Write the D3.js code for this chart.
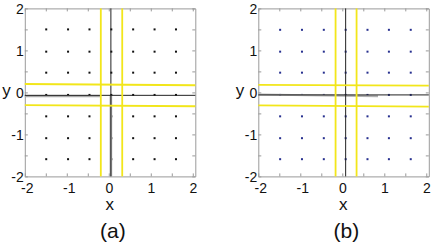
<!DOCTYPE html>
<html>
<head>
<meta charset="utf-8">
<script src="https://cdn.jsdelivr.net/npm/d3@7"></script>
<style>
  body { margin: 0; background: #fff; }
  svg text { font-family: "Liberation Sans", Arial, sans-serif; fill: #111; }
</style>
</head>
<body>
<div id="chart"></div>
<script>
// tick values, labels only at the integers
var tickVals = [-2, -1.5, -1, -0.5, 0, 0.5, 1, 1.5, 2];

// sample grid, panel (a) and (b)
var gridXa = [-1.49, -0.97, -0.46, 0.06, 0.58, 1.09, 1.60];
var gridYa = [1.50, 0.97, 0.47, -0.06, -0.57, -1.09, -1.59];
var gridXb = [-1.48, -0.96, -0.44, 0.08, 0.60, 1.11, 1.63];
var gridYb = [1.49, 0.97, 0.47, -0.06, -0.57, -1.09, -1.59];

// yellow lines: vertical x positions, horizontal [y at left, y at right]
var yellowVa = [-0.19, 0.32];
var yellowHa = [[0.20, 0.17], [-0.305, -0.33]];
var yellowVb = [-0.16, 0.34];
var yellowHb = [[0.18, 0.16], [-0.31, -0.34]];

// black axis lines (x of vertical, y of horizontal)
var blackA = [0.05, -0.07];
var blackB = [0.08, -0.06];

var panels = [
  { left: 24.8, label: "(a)", gx: gridXa, gy: gridYa, dot: "#111", yv: yellowVa, yh: yellowHa, blk: blackA, shadow: true },
  { left: 258.3, label: "(b)", gx: gridXb, gy: gridYb, dot: "#27308f", yv: yellowVb, yh: yellowHb, blk: blackB, shadow: false }
];

var W = 436, H = 250;
var svg = d3.select("#chart").append("svg").attr("width", W).attr("height", H);

var xMax = 2.06;
var pw = 170.5, plotTop = 8.4, plotBottom = 176.4;

panels.forEach(function(p) {
  var x = d3.scaleLinear().domain([-2, xMax]).range([p.left, p.left + pw]);
  var y = d3.scaleLinear().domain([-2, 2]).range([plotBottom, plotTop]);
  var g = svg.append("g");

  var fmt = function(d) { return Number.isInteger(d) ? String(d) : ""; };

  // box + inner ticks on all four sides
  var axB = g.append("g").attr("transform", "translate(0," + plotBottom + ")")
    .call(d3.axisBottom(x).tickValues(tickVals).tickSizeInner(-3).tickSizeOuter(0).tickFormat(fmt));
  var axT = g.append("g").attr("transform", "translate(0," + plotTop + ")")
    .call(d3.axisTop(x).tickValues(tickVals).tickSizeInner(-3).tickSizeOuter(0).tickFormat(""));
  var axL = g.append("g").attr("transform", "translate(" + p.left + ",0)")
    .call(d3.axisLeft(y).tickValues(tickVals).tickSizeInner(-3).tickSizeOuter(0).tickFormat(fmt));
  var axR = g.append("g").attr("transform", "translate(" + (p.left + pw) + ",0)")
    .call(d3.axisRight(y).tickValues(tickVals).tickSizeInner(-3).tickSizeOuter(0).tickFormat(""));

  [axB, axT, axL, axR].forEach(function(a) {
    a.select(".domain").attr("stroke", "#9a9a9a");
    a.selectAll(".tick line").attr("stroke", "#9a9a9a");
    a.selectAll("text").attr("font-size", 14).attr("fill", "#111")
      .attr("font-family", "Liberation Sans, Arial, sans-serif");
  });
  axB.selectAll("text").attr("y", 7).attr("dy", "0.71em")
    .attr("dx", function(d) { return d < 0 ? 2 : 0; });
  axL.selectAll("text").attr("x", -1).attr("dy", "0.33em");

  // dots
  var pts = [];
  p.gy.forEach(function(yy) { p.gx.forEach(function(xx) { pts.push([xx, yy]); }); });
  g.selectAll("rect.dot").data(pts).enter().append("rect")
    .attr("class", "dot")
    .attr("x", function(d) { return x(d[0]) - 1; })
    .attr("y", function(d) { return y(d[1]) - 1; })
    .attr("width", 2).attr("height", 2)
    .attr("fill", p.dot);

  // gray shadow segments
  if (p.shadow) {
    g.append("line")
      .attr("x1", x(-2)).attr("x2", x(-0.2))
      .attr("y1", y(p.blk[1] - 0.02)).attr("y2", y(p.blk[1] - 0.02))
      .attr("stroke", "#aaa").attr("stroke-width", 2.2);
    g.append("line")
      .attr("x1", x(p.blk[0])).attr("x2", x(p.blk[0]))
      .attr("y1", y(p.blk[1])).attr("y2", y(-2))
      .attr("stroke", "#aaa").attr("stroke-width", 2.6);
  } else {
    g.append("line")
      .attr("x1", x(-2)).attr("x2", x(0.85))
      .attr("y1", y(p.blk[1] + 0.01)).attr("y2", y(p.blk[1] - 0.03))
      .attr("stroke", "#b0b0b0").attr("stroke-width", 2);
  }

  // black lines
  g.append("line")
    .attr("x1", x(p.blk[0])).attr("x2", x(p.blk[0]))
    .attr("y1", y(2)).attr("y2", y(-2))
    .attr("stroke", "#222").attr("stroke-width", 1);
  g.append("line")
    .attr("x1", x(-2)).attr("x2", x(xMax))
    .attr("y1", y(p.blk[1])).attr("y2", y(p.blk[1]))
    .attr("stroke", "#222").attr("stroke-width", 1);

  // yellow lines
  g.selectAll("line.yv").data(p.yv).enter().append("line")
    .attr("class", "yv")
    .attr("x1", function(d) { return x(d); }).attr("x2", function(d) { return x(d); })
    .attr("y1", y(2)).attr("y2", y(-2))
    .attr("stroke", "#f2e61a").attr("stroke-width", 1.8);
  g.selectAll("line.yh").data(p.yh).enter().append("line")
    .attr("class", "yh")
    .attr("x1", x(-2)).attr("x2", x(xMax))
    .attr("y1", function(d) { return y(d[0]); }).attr("y2", function(d) { return y(d[1]); })
    .attr("stroke", "#f2e61a").attr("stroke-width", 1.8);

  // axis titles
  g.append("text").attr("x", x(0) + 1).attr("y", 210)
    .attr("text-anchor", "middle").attr("font-size", 17).text("x");
  g.append("text").attr("x", p.left - 14).attr("y", y(0) + 4)
    .attr("text-anchor", "end").attr("font-size", 17).text("y");

  // panel label
  g.append("text").attr("x", x(0) + 4).attr("y", 238)
    .attr("text-anchor", "middle").attr("font-size", 21).text(p.label);
});
</script>
</body>
</html>
